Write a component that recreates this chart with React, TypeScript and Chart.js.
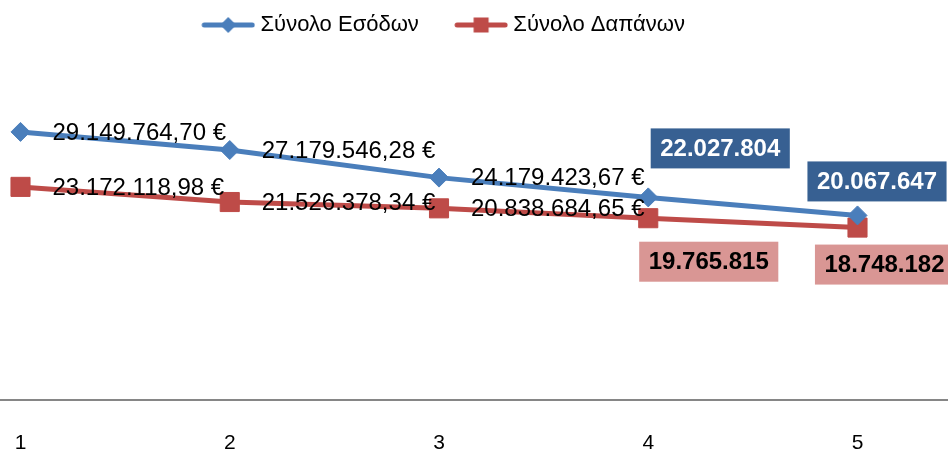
import React, { useEffect, useRef } from 'react';
import { Chart, registerables } from 'chart.js';

Chart.register(...registerables);

// ---- data ----
const categories = [1, 2, 3, 4, 5];
const seriesNames = ['Σύνολο Εσόδων', 'Σύνολο Δαπάνων'];
const incomeValues = [29149764.7, 27179546.28, 24179423.67, 22027804, 20067647];
const expenseValues = [23172118.98, 21526378.34, 20838684.65, 19765815, 18748182];

// ---- axis ranges / styling ----
const Y_MIN = 0;
const Y_MAX = 38490000;
const X_MIN = 0.902;
const X_MAX = 5.4325;

const BLUE = '#4A7EBB';
const RED = '#BE4B48';
const FONT = '"Liberation Sans", Arial, sans-serif';
const LEGEND_SHIFT = 43.5;

const plain = { kind: 'plain' };
const labelStyles: any[][] = [
  [plain, plain, plain,
    { kind: 'box', fill: '#376092', color: '#FFFFFF', dx: 72, dy: -49 },
    { kind: 'box', fill: '#376092', color: '#FFFFFF', dx: 19.5, dy: -34 }],
  [plain, plain, plain,
    { kind: 'box', fill: '#D99694', color: '#000000', dx: 60.5, dy: 43.5 },
    { kind: 'box', fill: '#D99694', color: '#000000', dx: 27, dy: 37 }],
];

function formatNumber(v: number, decimals: number): string {
  const fixed = v.toFixed(decimals);
  const parts = fixed.split('.');
  const grouped = parts[0].replace(/\B(?=(\d{3})+(?!\d))/g, '.');
  return parts.length > 1 ? grouped + ',' + parts[1] : grouped;
}

function makeLegendMarker(color: string, shape: string): HTMLCanvasElement {
  const c = document.createElement('canvas');
  c.width = 85;
  c.height = 20;
  const g = c.getContext('2d')!;
  g.strokeStyle = color;
  g.lineWidth = 5;
  g.lineCap = 'round';
  g.beginPath();
  g.moveTo(34, 10);
  g.lineTo(82, 10);
  g.stroke();
  g.fillStyle = color;
  const cx = 58;
  const cy = 10;
  if (shape === 'diamond') {
    g.beginPath();
    g.moveTo(cx, cy - 8);
    g.lineTo(cx + 8, cy);
    g.lineTo(cx, cy + 8);
    g.lineTo(cx - 8, cy);
    g.closePath();
    g.fill();
  } else {
    g.fillRect(cx - 7.5, cy - 7.5, 15, 15);
  }
  return c;
}

const pointLabelPlugin = {
  id: 'pointLabels',
  afterDatasetsDraw(chart: any) {
    const ctx = chart.ctx;
    ctx.save();
    chart.data.datasets.forEach((ds: any, di: number) => {
      const meta = chart.getDatasetMeta(di);
      meta.data.forEach((pt: any, i: number) => {
        const value = ds.data[i].y;
        const style = labelStyles[di][i];
        if (style.kind === 'plain') {
          ctx.font = `24px ${FONT}`;
          ctx.fillStyle = '#000000';
          ctx.textAlign = 'left';
          ctx.textBaseline = 'middle';
          ctx.fillText(formatNumber(value, 2) + ' €', pt.x + 32, pt.y + 1);
        } else {
          ctx.font = `bold 24px ${FONT}`;
          const text = formatNumber(value, 0);
          const w = ctx.measureText(text).width + 19;
          const h = 40;
          const cx = pt.x + style.dx;
          const cy = pt.y + style.dy;
          ctx.fillStyle = style.fill;
          ctx.fillRect(cx - w / 2, cy - h / 2, w, h);
          ctx.fillStyle = style.color;
          ctx.textAlign = 'center';
          ctx.textBaseline = 'middle';
          ctx.fillText(text, cx, cy + 1);
        }
      });
    });
    ctx.restore();
  },
};

const legendShiftPlugin = {
  id: 'legendShift',
  afterLayout(chart: any) {
    const lg = chart.legend;
    if (lg) {
      lg.left -= LEGEND_SHIFT;
      lg.right -= LEGEND_SHIFT;
    }
  },
};

export default function App() {
  const canvasRef = useRef<HTMLCanvasElement | null>(null);

  useEffect(() => {
    document.body.style.margin = '0';
    document.body.style.overflow = 'hidden';
    const canvas = canvasRef.current;
    if (!canvas) return;
    const markers = [makeLegendMarker(BLUE, 'diamond'), makeLegendMarker(RED, 'square')];

    const chart = new Chart(canvas, {
      type: 'line',
      data: {
        datasets: [
          {
            label: seriesNames[0],
            data: categories.map((c, i) => ({ x: c, y: incomeValues[i] })),
            borderColor: BLUE,
            backgroundColor: BLUE,
            borderWidth: 5,
            pointStyle: 'rectRot',
            pointRadius: 9.5,
            pointBorderWidth: 1,
            pointBackgroundColor: BLUE,
            pointBorderColor: BLUE,
            tension: 0,
          },
          {
            label: seriesNames[1],
            data: categories.map((c, i) => ({ x: c, y: expenseValues[i] })),
            borderColor: RED,
            backgroundColor: RED,
            borderWidth: 5,
            pointStyle: 'rect',
            pointRadius: 13.5,
            pointBorderWidth: 1,
            pointBackgroundColor: RED,
            pointBorderColor: RED,
            tension: 0,
          },
        ],
      },
      options: {
        animation: false,
        responsive: false,
        layout: { autoPadding: false, padding: { top: 4, left: 0, right: 0, bottom: 0 } },
        scales: {
          x: {
            type: 'linear',
            min: X_MIN,
            max: X_MAX,
            afterBuildTicks: (scale: any) => {
              scale.ticks = categories.map((v) => ({ value: v }));
            },
            afterFit: (scale: any) => {
              scale.height = 51;
            },
            grid: { display: false, drawTicks: false },
            border: { display: true, color: '#868686', width: 2 },
            ticks: {
              padding: 0,
              color: '#000000',
              font: { family: FONT, size: 21, lineHeight: 86 / 21 },
              maxRotation: 0,
              autoSkip: false,
              callback: (v: any) => String(v),
            },
          },
          y: { display: false, min: Y_MIN, max: Y_MAX },
        },
        plugins: {
          tooltip: { enabled: false },
          legend: {
            position: 'top',
            labels: {
              usePointStyle: true,
              pointStyleWidth: 73.5,
              padding: 10,
              color: '#000000',
              font: { family: FONT, size: 22 },
              generateLabels: (ch: any) =>
                ch.data.datasets.map((ds: any, i: number) => ({
                  text: ds.label,
                  pointStyle: markers[i],
                  fillStyle: ds.borderColor,
                  strokeStyle: ds.borderColor,
                  fontColor: '#000000',
                  lineWidth: 0,
                  hidden: false,
                  datasetIndex: i,
                })),
            },
          },
        },
      } as any,
      plugins: [pointLabelPlugin, legendShiftPlugin],
    });

    return () => {
      chart.destroy();
    };
  }, []);

  return (
    <div style={{ width: 948, height: 451 }}>
      <canvas ref={canvasRef} width={948} height={451} style={{ display: 'block' }} />
    </div>
  );
}
